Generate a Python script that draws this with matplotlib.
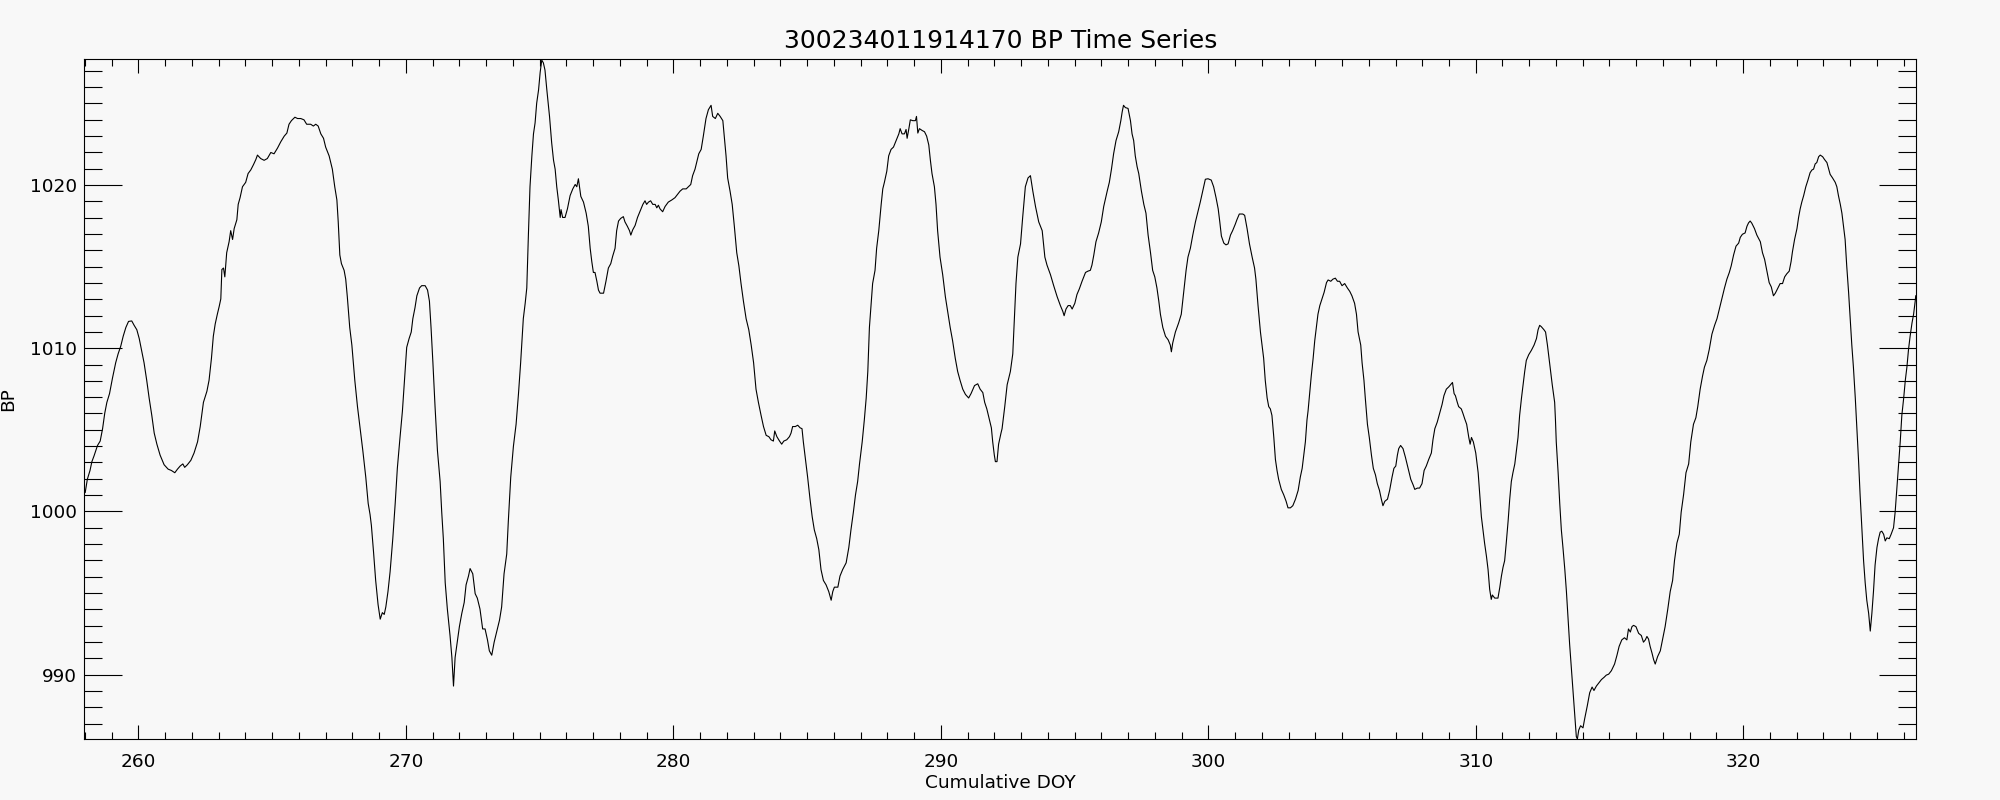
from matplotlib import pyplot as plt
from matplotlib.ticker import MultipleLocator

title = "300234011914170 BP Time Series"

# cumulative day of year
doy = [
    258.01, 258.09, 258.19, 258.26, 258.34, 258.47, 258.57, 258.66, 258.74, 258.82,
    258.92, 259.03, 259.15, 259.24, 259.34, 259.43, 259.53, 259.63, 259.75, 259.84,
    259.94, 260.03, 260.11, 260.21, 260.31, 260.40, 260.50, 260.59, 260.69, 260.81,
    260.96, 261.11, 261.23, 261.36, 261.46, 261.56, 261.66, 261.73, 261.83, 261.96,
    262.08, 262.21, 262.31, 262.43, 262.56, 262.64, 262.73, 262.80, 262.87, 262.95,
    263.02, 263.08, 263.12, 263.18, 263.23, 263.30, 263.39, 263.45, 263.52, 263.58,
    263.68, 263.73, 263.80, 263.89, 264.01, 264.10, 264.20, 264.30, 264.39, 264.45,
    264.57, 264.70, 264.82, 264.95, 265.07, 265.20, 265.32, 265.45, 265.55, 265.63,
    265.72, 265.85, 265.95, 266.07, 266.19, 266.29, 266.44, 266.54, 266.63, 266.72,
    266.82, 266.92, 267.00, 267.13, 267.25, 267.34, 267.42, 267.47, 267.53, 267.59,
    267.69, 267.75, 267.81, 267.90, 267.98, 268.09, 268.19, 268.29, 268.39, 268.50,
    268.59, 268.66, 268.71, 268.79, 268.87, 268.96, 269.04, 269.12, 269.19, 269.25,
    269.33,
    269.41, 269.51, 269.60, 269.68, 269.78, 269.87, 269.97, 270.03, 270.12, 270.20,
    270.26, 270.34, 270.41, 270.51, 270.59, 270.72, 270.81, 270.88, 270.94, 271.01,
    271.09, 271.18, 271.28, 271.34, 271.40, 271.47, 271.55, 271.65, 271.72, 271.78,
    271.84, 271.93, 272.00, 272.09, 272.18, 272.25, 272.34, 272.40, 272.50, 272.59,
    272.67, 272.77, 272.87, 272.96, 273.05, 273.12, 273.21, 273.30, 273.40, 273.50,
    273.58, 273.67, 273.77, 273.83, 273.92, 274.02, 274.12, 274.21, 274.29, 274.39,
    274.46, 274.52, 274.58, 274.64, 274.71, 274.77, 274.83, 274.89, 274.96, 275.02,
    275.08, 275.14, 275.20, 275.27, 275.37, 275.45, 275.52, 275.58, 275.64, 275.70,
    275.77, 275.80, 275.86, 275.95, 276.04, 276.14, 276.24, 276.33, 276.39, 276.45,
    276.49, 276.54, 276.64, 276.74, 276.82, 276.89, 276.95, 277.01, 277.07, 277.14,
    277.20, 277.26, 277.39, 277.48, 277.57, 277.66, 277.73, 277.82, 277.88, 277.95,
    278.03, 278.13, 278.19, 278.28, 278.36, 278.41, 278.48, 278.57, 278.66, 278.76,
    278.86, 278.94, 279.00, 279.07, 279.15, 279.23, 279.32, 279.38, 279.44, 279.50,
    279.60, 279.69, 279.81, 279.94, 280.06, 280.15, 280.25, 280.35, 280.48, 280.56,
    280.65, 280.72, 280.81,
    280.85, 280.95, 281.04, 281.12, 281.22, 281.31, 281.41, 281.47, 281.57, 281.66,
    281.75, 281.85, 281.91, 281.97, 282.03, 282.12, 282.20, 282.28, 282.37, 282.45,
    282.53, 282.62, 282.72, 282.82, 282.91, 283.00, 283.09, 283.18, 283.28, 283.37,
    283.47, 283.57, 283.65, 283.74, 283.79, 283.87, 283.97, 284.05, 284.13, 284.24,
    284.34, 284.40, 284.46, 284.56, 284.65, 284.74, 284.81, 284.86, 284.94, 285.02,
    285.11, 285.19, 285.27, 285.36, 285.44, 285.52, 285.61, 285.71, 285.81, 285.90,
    285.96, 286.02, 286.15, 286.23, 286.33, 286.46, 286.56, 286.64, 286.73, 286.81,
    286.89, 286.96, 287.06, 287.14, 287.21, 287.27, 287.33, 287.39, 287.45, 287.54,
    287.60, 287.68, 287.77, 287.83, 287.89, 287.98, 288.05, 288.14, 288.23, 288.33,
    288.43, 288.48, 288.55, 288.64, 288.70, 288.74, 288.80, 288.86, 288.95, 289.05,
    289.09, 289.14, 289.20, 289.30, 289.39, 289.47, 289.55, 289.61, 289.67, 289.76,
    289.82, 289.88, 289.97, 290.07, 290.17, 290.26, 290.35, 290.44, 290.54, 290.63,
    290.72, 290.82, 290.92, 291.04, 291.13, 291.26, 291.38, 291.47, 291.57, 291.64,
    291.72, 291.82, 291.89, 291.94, 292.00, 292.04, 292.10, 292.16, 292.25,
    292.29, 292.39, 292.48, 292.60, 292.69, 292.75, 292.81, 292.88, 292.98, 293.06,
    293.16, 293.26, 293.35, 293.44, 293.54, 293.66, 293.79, 293.89, 293.97, 294.10,
    294.22, 294.35, 294.47, 294.56, 294.61, 294.68, 294.76, 294.84, 294.91, 295.01,
    295.09, 295.18, 295.28, 295.41, 295.50, 295.59, 295.65, 295.72, 295.80, 295.90,
    296.00, 296.09, 296.22, 296.30, 296.38, 296.46, 296.55, 296.65, 296.73, 296.78,
    296.83, 296.90, 297.00, 297.09, 297.15, 297.21, 297.27, 297.34, 297.40, 297.50,
    297.59, 297.67, 297.75, 297.84, 297.92, 298.00, 298.08, 298.15, 298.21, 298.30,
    298.40, 298.50, 298.58, 298.62, 298.67, 298.77, 298.89, 298.99, 299.08, 299.17,
    299.24, 299.33, 299.42, 299.52, 299.62, 299.70, 299.79, 299.89, 299.99, 300.11,
    300.20, 300.29, 300.37, 300.43, 300.49, 300.58, 300.66, 300.74, 300.83, 300.91,
    301.01, 301.07, 301.16, 301.29, 301.36, 301.45, 301.54, 301.64, 301.73, 301.78,
    301.86, 301.95, 302.01, 302.07, 302.13, 302.20, 302.26, 302.32, 302.38, 302.45,
    302.51, 302.57, 302.63, 302.73, 302.82, 302.91, 302.98, 303.07, 303.16, 303.26,
    303.36, 303.44, 303.51, 303.57, 303.63, 303.69,
    303.73, 303.79, 303.85, 303.92, 303.98, 304.04, 304.10, 304.17, 304.25, 304.33,
    304.42, 304.48, 304.58, 304.66, 304.75, 304.83, 304.91, 305.00, 305.10, 305.20,
    305.29, 305.37, 305.47, 305.54, 305.60, 305.70, 305.75, 305.82, 305.87, 305.95,
    306.02, 306.10, 306.17, 306.25, 306.32, 306.40, 306.47, 306.53, 306.60, 306.70,
    306.78, 306.87, 306.94, 307.01, 307.07, 307.12, 307.19, 307.28, 307.37, 307.47,
    307.57, 307.66, 307.72, 307.82, 307.90, 307.99, 308.07, 308.15, 308.24, 308.34,
    308.40, 308.47, 308.56, 308.65, 308.74, 308.81, 308.90, 308.99, 309.06, 309.13,
    309.19, 309.24, 309.31, 309.36, 309.46, 309.52, 309.59, 309.66, 309.74, 309.79,
    309.84, 309.91, 310.00, 310.09, 310.15, 310.21, 310.27, 310.33, 310.40, 310.46,
    310.52, 310.58, 310.62, 310.71, 310.83, 310.90, 310.96, 311.02, 311.08, 311.14,
    311.21, 311.27, 311.33, 311.39, 311.46, 311.52, 311.58, 311.64, 311.71, 311.77,
    311.83, 311.89, 311.98, 312.08, 312.18, 312.27, 312.33, 312.39, 312.45, 312.55,
    312.61, 312.68, 312.74, 312.80, 312.86, 312.95, 312.98, 313.01, 313.08, 313.14,
    313.20, 313.26, 313.33, 313.39, 313.45, 313.51, 313.57, 313.64, 313.70, 313.76,
    313.80, 313.85, 313.92, 314.01, 314.07, 314.17, 314.26, 314.35, 314.42, 314.51,
    314.60, 314.70, 314.80, 314.88, 314.97, 315.07,
    315.19, 315.28, 315.36, 315.46, 315.56, 315.65, 315.71, 315.78, 315.84, 315.90,
    315.99, 316.09, 316.19, 316.27, 316.34, 316.40, 316.46, 316.52, 316.59, 316.65,
    316.71, 316.80, 316.90, 316.98, 317.08, 317.18, 317.27, 317.36, 317.43, 317.52,
    317.61, 317.68, 317.77, 317.86, 317.96, 318.04, 318.14, 318.23, 318.30, 318.39,
    318.48, 318.55, 318.64, 318.73, 318.83, 318.93, 319.02, 319.10, 319.20, 319.30,
    319.39, 319.48, 319.55, 319.64, 319.73, 319.83, 319.89, 319.97, 320.07, 320.14,
    320.20, 320.26, 320.32, 320.42, 320.51, 320.64, 320.72, 320.80, 320.88, 320.97,
    321.05, 321.13, 321.20, 321.30, 321.38, 321.47, 321.55, 321.63, 321.72, 321.79,
    321.84, 321.92, 322.01, 322.07, 322.13, 322.19, 322.26, 322.34, 322.42, 322.50,
    322.57, 322.63, 322.69, 322.75, 322.82, 322.88, 322.97, 323.04, 323.13, 323.19,
    323.25, 323.34, 323.44, 323.50, 323.56, 323.63, 323.69, 323.75, 323.81, 323.87,
    323.94, 324.00, 324.06, 324.12, 324.19, 324.25, 324.31, 324.37, 324.44, 324.50,
    324.56, 324.62, 324.69, 324.75, 324.81, 324.87, 324.93, 325.00, 325.06, 325.12,
    325.18, 325.25, 325.31, 325.37, 325.46, 325.53, 325.62, 325.68, 325.74, 325.81,
    325.87, 325.93, 326.00, 326.06, 326.12, 326.18, 326.24, 326.31, 326.37, 326.43,
    326.45,
]

# barometric pressure
bp = [
    1001.16, 1001.97, 1002.51, 1003.05, 1003.40, 1004.04, 1004.31, 1005.07, 1006.01, 1006.68,
    1007.22, 1008.17, 1009.11, 1009.65, 1010.13, 1010.73, 1011.27, 1011.64, 1011.67, 1011.40,
    1011.13, 1010.59, 1009.92, 1009.11, 1008.03, 1006.95, 1005.88, 1004.80, 1004.12, 1003.45,
    1002.86, 1002.59, 1002.51, 1002.37, 1002.59, 1002.78, 1002.91, 1002.70, 1002.86, 1003.13,
    1003.58, 1004.26, 1005.20, 1006.68, 1007.36, 1008.03, 1009.38, 1010.73, 1011.48, 1012.08,
    1012.56, 1013.02, 1014.82, 1014.91, 1014.37, 1015.85, 1016.52, 1017.20, 1016.66, 1017.33,
    1017.87, 1018.81, 1019.22, 1019.89, 1020.16, 1020.70, 1020.92, 1021.24, 1021.56, 1021.83,
    1021.62, 1021.51, 1021.62, 1021.99, 1021.91, 1022.26, 1022.64, 1022.99, 1023.18, 1023.72,
    1023.94, 1024.15, 1024.07, 1024.07, 1023.99, 1023.72, 1023.72, 1023.61, 1023.72, 1023.61,
    1023.13, 1022.86, 1022.32, 1021.78, 1020.97, 1019.89, 1019.08, 1017.74, 1015.71, 1015.18,
    1014.77, 1014.23, 1013.15, 1011.27, 1010.19, 1008.03, 1006.42, 1005.07, 1003.72, 1002.10,
    1000.49, 999.81, 999.14, 997.52, 995.77, 994.29, 993.40, 993.80, 993.69, 994.15,
    995.09,
    996.31, 998.33, 1000.49, 1002.64, 1004.53, 1006.15, 1008.57, 1010.05, 1010.59, 1010.99,
    1011.81, 1012.48, 1013.21, 1013.69, 1013.83, 1013.83, 1013.56, 1012.88, 1011.27, 1009.11,
    1006.42, 1003.72, 1001.83, 999.95, 998.33, 995.63, 994.02, 992.40, 991.05, 989.30,
    991.05, 992.13, 992.94, 993.75, 994.42, 995.50, 996.04, 996.50, 996.18, 994.96,
    994.69, 994.02, 992.80, 992.80, 992.13, 991.46, 991.19, 991.99, 992.67, 993.34,
    994.15, 996.18, 997.39, 999.41, 1002.10, 1003.99, 1005.34, 1007.22, 1009.11, 1011.81,
    1012.75, 1013.69, 1016.93, 1019.89, 1021.78, 1023.13, 1023.80, 1025.01, 1025.82, 1026.90,
    1027.65, 1027.48, 1027.04, 1025.82, 1024.20, 1022.59, 1021.51, 1020.97, 1019.89, 1019.08,
    1018.01, 1018.49, 1018.01, 1018.01, 1018.54, 1019.35, 1019.76, 1020.03, 1019.89, 1020.38,
    1019.89, 1019.30, 1018.95, 1018.27, 1017.47, 1016.12, 1015.31, 1014.64, 1014.64, 1014.10,
    1013.56, 1013.37, 1013.37, 1014.10, 1014.91, 1015.18, 1015.63, 1016.12, 1017.20, 1017.79,
    1017.95, 1018.06, 1017.74, 1017.47, 1017.20, 1016.93, 1017.25, 1017.52, 1018.01, 1018.41,
    1018.81, 1019.03, 1018.81, 1018.95, 1019.03, 1018.81, 1018.81, 1018.60, 1018.76, 1018.54,
    1018.36, 1018.68, 1018.95, 1019.08, 1019.22, 1019.41, 1019.62, 1019.76, 1019.76, 1019.89,
    1020.03, 1020.57, 1020.97,
    1021.24, 1021.91, 1022.18, 1022.99, 1024.07, 1024.61, 1024.88, 1024.20, 1024.07, 1024.39,
    1024.20, 1023.94, 1022.86, 1021.78, 1020.43, 1019.62, 1018.81, 1017.47, 1015.85, 1015.04,
    1013.96, 1012.88, 1011.81, 1011.13, 1010.19, 1009.11, 1007.49, 1006.68, 1005.88, 1005.20,
    1004.66, 1004.58, 1004.39, 1004.31, 1004.93, 1004.58, 1004.31, 1004.12, 1004.31, 1004.39,
    1004.58, 1004.80, 1005.20, 1005.20, 1005.28, 1005.12, 1005.07, 1004.26, 1003.18, 1002.10,
    1000.75, 999.68, 998.87, 998.33, 997.65, 996.44, 995.77, 995.50, 995.09, 994.56,
    995.09, 995.36, 995.36, 996.04, 996.44, 996.85, 997.79, 998.87, 999.95, 1001.02,
    1001.83, 1002.91, 1004.26, 1005.61, 1006.95, 1008.57, 1011.27, 1012.61, 1013.96, 1014.77,
    1016.12, 1017.20, 1018.81, 1019.76, 1020.16, 1020.84, 1021.78, 1022.18, 1022.32, 1022.72,
    1023.13, 1023.45, 1023.13, 1023.13, 1023.40, 1022.86, 1023.40, 1023.99, 1023.94, 1023.94,
    1024.20, 1023.18, 1023.45, 1023.34, 1023.26, 1022.99, 1022.45, 1021.51, 1020.70, 1019.89,
    1018.81, 1017.20, 1015.58, 1014.50, 1013.15, 1012.21, 1011.27, 1010.46, 1009.38, 1008.57,
    1008.03, 1007.49, 1007.17, 1006.95, 1007.22, 1007.71, 1007.82, 1007.49, 1007.28, 1006.68,
    1006.28, 1005.61, 1005.12, 1004.26, 1003.45, 1003.05, 1003.05, 1004.12, 1004.80,
    1005.07, 1006.42, 1007.76, 1008.57, 1009.65, 1011.81, 1013.96, 1015.58, 1016.39, 1018.01,
    1019.89, 1020.43, 1020.57, 1019.62, 1018.68, 1017.74, 1017.20, 1015.58, 1015.09, 1014.50,
    1013.83, 1013.15, 1012.61, 1012.26, 1011.99, 1012.40, 1012.61, 1012.61, 1012.40, 1012.75,
    1013.29, 1013.64, 1014.10, 1014.64, 1014.72, 1014.77, 1015.09, 1015.71, 1016.52, 1017.06,
    1017.74, 1018.68, 1019.62, 1020.16, 1020.97, 1021.91, 1022.72, 1023.26, 1023.94, 1024.47,
    1024.88, 1024.74, 1024.69, 1023.94, 1023.13, 1022.72, 1021.78, 1021.11, 1020.70, 1019.62,
    1018.81, 1018.27, 1016.93, 1015.85, 1014.77, 1014.37, 1013.69, 1012.88, 1012.08, 1011.27,
    1010.73, 1010.51, 1010.19, 1009.78, 1010.32, 1010.99, 1011.54, 1012.08, 1013.42, 1014.77,
    1015.58, 1016.12, 1016.93, 1017.74, 1018.41, 1018.95, 1019.62, 1020.35, 1020.38, 1020.30,
    1019.89, 1019.22, 1018.54, 1017.74, 1016.87, 1016.44, 1016.33, 1016.39, 1016.93, 1017.20,
    1017.60, 1017.87, 1018.22, 1018.22, 1018.14, 1017.33, 1016.39, 1015.58, 1014.91, 1014.23,
    1012.61, 1010.99, 1010.19, 1009.38, 1008.03, 1006.95, 1006.42, 1006.28, 1005.88, 1004.53,
    1003.18, 1002.51, 1001.97, 1001.35, 1001.02, 1000.62, 1000.22, 1000.22, 1000.35, 1000.75,
    1001.29, 1002.10, 1002.64, 1003.45, 1004.26, 1005.61,
    1006.15, 1007.22, 1008.30, 1009.38, 1010.46, 1011.27, 1012.08, 1012.61, 1013.02, 1013.42,
    1014.02, 1014.18, 1014.10, 1014.23, 1014.29, 1014.10, 1014.10, 1013.83, 1013.96, 1013.69,
    1013.48, 1013.21, 1012.75, 1012.08, 1011.00, 1010.19, 1009.11, 1008.03, 1006.95, 1005.34,
    1004.53, 1003.45, 1002.64, 1002.24, 1001.70, 1001.29, 1000.75, 1000.35, 1000.62, 1000.75,
    1001.29, 1002.10, 1002.64, 1002.78, 1003.45, 1003.85, 1004.04, 1003.85, 1003.32, 1002.64,
    1001.97, 1001.62, 1001.35, 1001.43, 1001.43, 1001.70, 1002.51, 1002.78, 1003.18, 1003.58,
    1004.39, 1005.07, 1005.47, 1006.01, 1006.55, 1007.09, 1007.49, 1007.63, 1007.76, 1007.90,
    1007.22, 1007.09, 1006.68, 1006.42, 1006.28, 1006.01, 1005.66, 1005.34, 1004.53, 1004.12,
    1004.53, 1004.26, 1003.58, 1002.37, 1001.02, 999.68, 998.87, 998.06, 997.25, 996.44,
    995.23, 994.61, 994.88, 994.69, 994.69, 995.36, 996.04, 996.58, 996.98, 998.06,
    999.41, 1000.75, 1001.83, 1002.37, 1002.91, 1003.72, 1004.53, 1005.88, 1006.95, 1007.76,
    1008.57, 1009.25, 1009.60, 1009.87, 1010.19, 1010.59, 1011.13, 1011.40, 1011.32, 1011.13,
    1010.99, 1010.19, 1009.38, 1008.57, 1007.76, 1006.68, 1005.61, 1004.26, 1002.37, 1000.49,
    998.87, 997.79, 996.44, 995.09, 993.48, 991.86, 990.51, 988.89, 987.55, 986.20,
    986.06, 986.60, 986.87, 986.74, 987.28, 988.09, 988.89, 989.24, 989.03, 989.30,
    989.49, 989.70, 989.84, 989.97, 990.03, 990.24,
    990.65, 991.19, 991.73, 992.13, 992.26, 992.13, 992.80, 992.61, 992.94, 993.02,
    992.94, 992.53, 992.40, 991.99, 992.13, 992.34, 992.18, 991.73, 991.32, 990.92,
    990.65, 991.11, 991.46, 992.13, 992.94, 994.02, 995.09, 995.77, 996.98, 998.06,
    998.60, 999.95, 1001.02, 1002.37, 1002.91, 1004.26, 1005.34, 1005.74, 1006.42, 1007.49,
    1008.30, 1008.84, 1009.25, 1009.92, 1010.86, 1011.40, 1011.81, 1012.34, 1013.02, 1013.69,
    1014.23, 1014.64, 1015.04, 1015.71, 1016.25, 1016.44, 1016.79, 1016.98, 1017.06, 1017.47,
    1017.68, 1017.79, 1017.66, 1017.33, 1016.93, 1016.52, 1015.85, 1015.44, 1014.77, 1014.02,
    1013.75, 1013.21, 1013.37, 1013.69, 1013.96, 1013.96, 1014.37, 1014.56, 1014.72, 1015.31,
    1015.90, 1016.66, 1017.33, 1018.01, 1018.54, 1018.95, 1019.35, 1019.89, 1020.30, 1020.75,
    1020.92, 1020.97, 1021.29, 1021.37, 1021.73, 1021.83, 1021.73, 1021.56, 1021.37, 1021.02,
    1020.65, 1020.43, 1020.16, 1019.89, 1019.35, 1018.81, 1018.27, 1017.47, 1016.66, 1015.04,
    1013.42, 1011.81, 1010.19, 1008.84, 1006.95, 1005.07, 1003.18, 1001.02, 998.87, 996.98,
    995.63, 994.56, 993.75, 992.67, 993.75, 995.09, 996.71, 997.79, 998.33, 998.73,
    998.79, 998.60, 998.19, 998.38, 998.33, 998.60, 999.00, 999.95, 1001.29, 1002.91,
    1004.26, 1005.88, 1006.95, 1008.03, 1008.84, 1009.92, 1010.73, 1011.54, 1012.08, 1012.88,
    1013.21,
]

xlims = [257.98, 326.46]
ylims = [986.06, 1027.70]

bg = "#f8f8f8"

fig = plt.figure(figsize=(20, 8), dpi=100, facecolor=bg)
ax = fig.add_axes([0.0422, 0.0763, 0.9158, 0.8496])
ax.set_facecolor(bg)

ax.plot(doy, bp, color="black", lw=0.8)

ax.set_xlim(xlims)
ax.set_ylim(ylims)
ax.xaxis.set_major_locator(MultipleLocator(10))
ax.xaxis.set_minor_locator(MultipleLocator(1))
ax.yaxis.set_major_locator(MultipleLocator(10))
ax.yaxis.set_minor_locator(MultipleLocator(1))

ax.tick_params(which="both", direction="in", top=True, right=True,
               color="black", width=0.8, labelsize=13.3)
ax.tick_params(axis="x", which="major", length=10, pad=10)
ax.tick_params(axis="x", which="minor", length=5)
ax.tick_params(axis="y", which="major", length=27, pad=5.5)
ax.tick_params(axis="y", which="minor", length=13)
for s in ax.spines.values():
    s.set_linewidth(0.8)

ax.set_title(title, fontsize=18, pad=8)
ax.set_xlabel("Cumulative DOY", fontsize=13.3, labelpad=2)
ax.set_ylabel("BP", fontsize=13.3)
ax.yaxis.set_label_coords(-0.0365, 0.5)

plt.savefig("out.png", dpi=100, facecolor=bg)
